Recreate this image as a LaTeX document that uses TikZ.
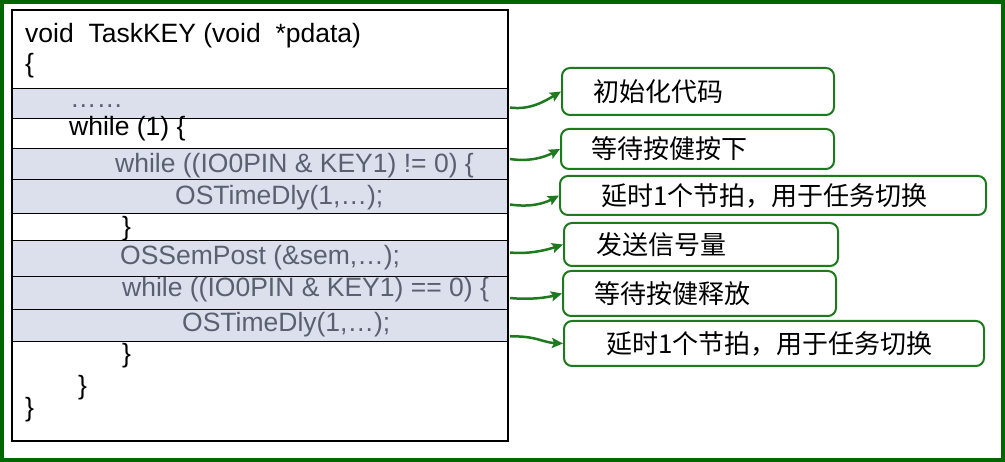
\documentclass[tikz,border=0pt]{standalone}
\usepackage{fontspec}
\setmainfont{Liberation Sans}
\newfontfamily\cjk{Noto Sans CJK SC}
\usetikzlibrary{arrows.meta}
\definecolor{framegreen}{HTML}{006600}
\definecolor{notegreen}{HTML}{1E7A1E}
\definecolor{rowfill}{HTML}{DCE0EC}
\definecolor{codegray}{HTML}{5A6070}

\begin{document}
\begin{tikzpicture}[x=1pt, y=-1pt,
        row/.style={draw=black, line width=1pt, fill=rowfill, anchor=north west, minimum width=496pt, inner sep=0pt},
        code/.style={anchor=base west, inner sep=0pt, font=\fontsize{26.5}{30}\selectfont},
        gray code/.style={code, text=codegray},
        note/.style={draw=notegreen, line width=2pt, rounded corners=8pt, fill=white, anchor=north west,
            inner xsep=#1, inner ysep=0pt, align=left, font=\cjk\fontsize{26}{30}\selectfont},
        link/.style={notegreen, line width=2.5pt, -{Stealth[length=11pt,width=10pt,inset=2pt]}}]
                \useasboundingbox (0,0) rectangle (1005,462);
                \draw[framegreen, line width=4pt] (2,2) rectangle (1003,460);

                % shaded lines of the task
                \node[row, minimum height=30pt] (dots) at (12,88) {};
                \node[row, minimum height=31pt] (waitdown) at (12,148) {};
                \node[row, minimum height=34pt] (delaya) at (12,179) {};
                \node[row, minimum height=36pt] (post) at (12,240) {};
                \node[row, minimum height=33pt] (waitup) at (12,276) {};
                \node[row, minimum height=32pt] (delayb) at (12,309) {};
                \draw[line width=1.2pt] (12,10) rectangle (508,441);

                \node[code] (head) at (25,43) {void~~TaskKEY (void~~*pdata)};
                \node[code] (open) at (25,73) {\{};
                \node[gray code] (dotstext) at (70,108) {……};
                \node[code] (loop) at (69,136) {while (1) \{};
                \node[gray code] (waitdowntext) at (115,173) {while ((IO0PIN \& KEY1) != 0) \{};
                \node[gray code] (delayatext) at (175,205) {OSTimeDly(1,…);};
                \node[code] (closea) at (122,236) {\}};
                \node[gray code] (posttext) at (120,265) {OSSemPost (\&sem,…);};
                \node[gray code] (waituptext) at (122,297) {while ((IO0PIN \& KEY1) == 0) \{};
                \node[gray code] (delaybtext) at (182,332) {OSTimeDly(1,…);};
                \node[code] (closeb) at (122,363) {\}};
                \node[code] (closec) at (78,395) {\}};
                \node[code] (closed) at (25,417) {\}};

                % notes on the right
                \node[note=31pt, text width=210pt, minimum height=47pt] (n1) at (561,67) {初始化代码};
                \node[note=30pt, text width=213pt, minimum height=40pt] (n2) at (560,128) {等待按健按下};
                \node[note=41pt, text width=344pt, minimum height=39pt] (n3) at (559,175) {延时1个节拍，用于任务切换};
                \node[note=32pt, text width=210pt, minimum height=43pt] (n4) at (563,222) {发送信号量};
                \node[note=31pt, text width=211pt, minimum height=45pt] (n5) at (562,270) {等待按健释放};
                \node[note=42pt, text width=336pt, minimum height=45pt] (n6) at (563,320) {延时1个节拍，用于任务切换};

                \draw[link] ([shift={(1,4)}]dots.east) .. controls +(20,3) and +(-15,9) .. (n1.west);
                \draw[link] ([shift={(1,-5)}]waitdown.east) .. controls +(20,3) and +(-15,8) .. (n2.west);
                \draw[link] ([shift={(1,8)}]delaya.east) .. controls +(20,3) and +(-15,8) .. (n3.west);
                \draw[link] ([shift={(1,-6)}]post.east) .. controls +(20,2) and +(-15,5) .. (n4.west);
                \draw[link] ([shift={(1,5)}]waitup.east) .. controls +(20,2) and +(-15,4) .. (n5.west);
                \draw[link] ([shift={(1,11)}]delayb.east) .. controls +(25,-1) and +(-20,-1) .. (n6.west);
\end{tikzpicture}
\end{document}
